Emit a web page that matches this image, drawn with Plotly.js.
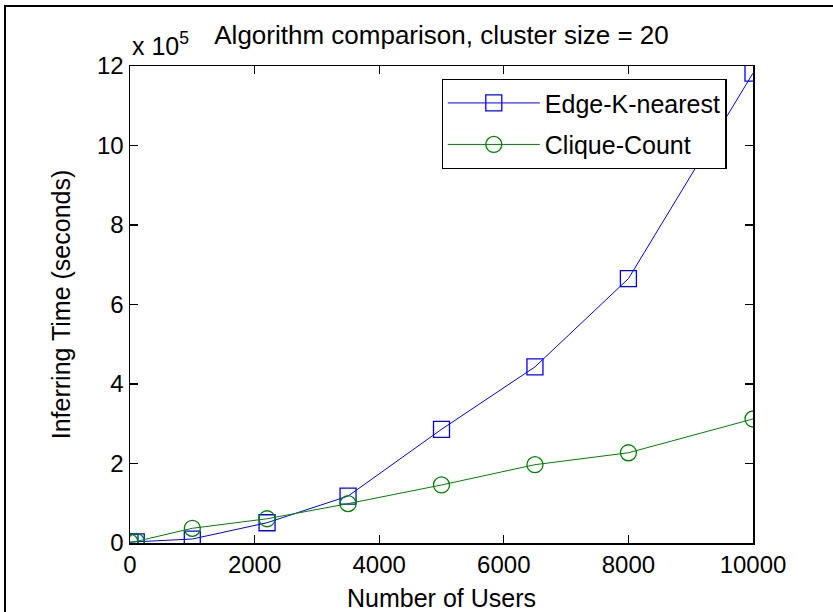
<!DOCTYPE html>
<html>
<head>
<meta charset="utf-8">
<script src="https://cdn.plot.ly/plotly-3.0.1.min.js"></script>
<style>
  html, body { margin: 0; padding: 0; background: #fff; }
  #chart { width: 833px; height: 612px; }
  #frame { position: absolute; left: 4px; top: 5px; width: 840px; height: 620px;
           border-left: 2px solid #000; border-top: 2px solid #000; pointer-events: none; }
</style>
</head>
<body>
<div id="chart"></div>
<div id="frame"></div>
<script>
// Data (inferring time in seconds)
const usersEdge   = [0, 100, 1000, 2200, 3500, 5000, 6500, 8000, 10000];
const timeEdge    = [2000, 3000, 10000, 51000, 118000, 286000, 443000, 665000, 1182000];
const usersClique = [0, 100, 1000, 2200, 3500, 5000, 6500, 8000, 10000];
const timeClique  = [2000, 4000, 37000, 61000, 99000, 146000, 197000, 227000, 312000];

const xTickVals = [0, 2000, 4000, 6000, 8000, 10000];
const xTickText = ['0', '2000', '4000', '6000', '8000', '10000'];
const yTickVals = [0, 200000, 400000, 600000, 800000, 1000000, 1200000];
const yTickText = ['0', '2', '4', '6', '8', '10', '12'];

const FONT = 'Liberation Sans, Arial, sans-serif';

const traces = [
  {
    x: usersEdge, y: timeEdge, name: 'Edge-K-nearest', type: 'scatter', mode: 'lines+markers',
    line: { color: '#0000ff', width: 1 },
    marker: { symbol: 'square-open', size: 16, color: '#0000ff', line: { width: 1.3, color: '#0000ff' } },
    legendgroup: 'a'
  },
  {
    x: usersClique, y: timeClique, name: 'Clique-Count', type: 'scatter', mode: 'lines+markers',
    line: { color: '#008000', width: 1 },
    marker: { symbol: 'circle-open', size: 16, color: '#008000', line: { width: 1.3, color: '#008000' } },
    legendgroup: 'b'
  }
];

const layout = {
  width: 833, height: 612,
  margin: { l: 130, r: 80, t: 66, b: 69 },
  paper_bgcolor: '#fff', plot_bgcolor: '#fff',
  font: { family: FONT, size: 24, color: '#000' },
  title: {
    text: 'Algorithm comparison, cluster size = 20',
    font: { family: FONT, size: 26, color: '#000' },
    x: 0.5, xref: 'paper', xanchor: 'center',
    y: 0.943, yref: 'container', yanchor: 'middle'
  },
  xaxis: {
    range: [0, 10000], tickvals: xTickVals, ticktext: xTickText,
    showline: true, linecolor: '#000', linewidth: 1.5, mirror: 'ticks',
    ticks: 'inside', ticklen: 8, tickcolor: '#000', tickwidth: 1.3,
    showgrid: false, zeroline: false,
    tickfont: { family: FONT, size: 24, color: '#000' },
    title: { text: 'Number of Users', font: { family: FONT, size: 25, color: '#000' }, standoff: 14 }
  },
  yaxis: {
    range: [0, 1200000], tickvals: yTickVals, ticktext: yTickText,
    showline: true, linecolor: '#000', linewidth: 1.5, mirror: 'ticks',
    ticks: 'inside', ticklen: 8, tickcolor: '#000', tickwidth: 1.3,
    showgrid: false, zeroline: false,
    tickfont: { family: FONT, size: 24, color: '#000' },
    title: { text: 'Inferring Time (seconds)', font: { family: FONT, size: 25, color: '#000' } }
  },
  legend: {
    x: 0.5, y: 0.973, xanchor: 'left', yanchor: 'top',
    bgcolor: '#fff', bordercolor: '#000', borderwidth: 1.3,
    font: { family: FONT, size: 25, color: '#000' },
    traceorder: 'grouped', tracegroupgap: 6, itemwidth: 92, entrywidth: 192
  },
  annotations: [
    {
      text: 'x 10<sup>5</sup>', xref: 'paper', yref: 'paper', x: 0, y: 1.046,
      xanchor: 'left', yanchor: 'middle', showarrow: false,
      font: { family: FONT, size: 25, color: '#000' }
    }
  ],
  showlegend: true
};

Plotly.newPlot('chart', traces, layout, { displayModeBar: false, staticPlot: true });
</script>
</body>
</html>
